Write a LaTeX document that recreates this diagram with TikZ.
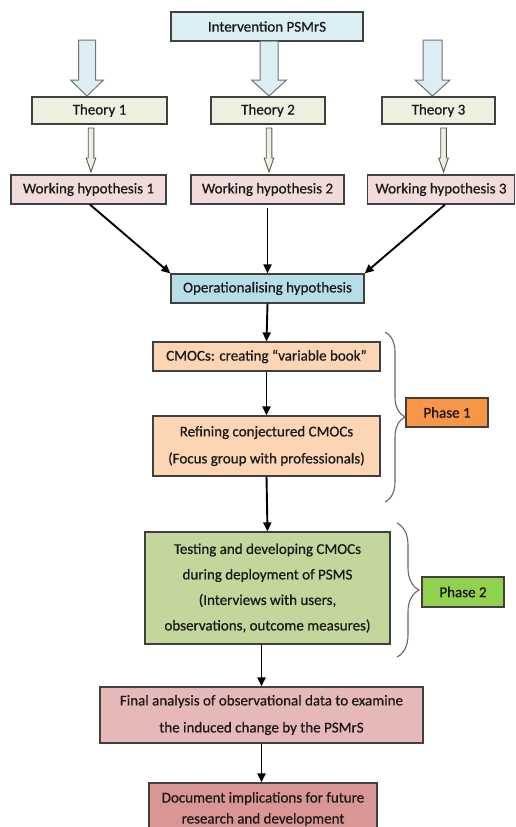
\documentclass[tikz,border=0pt]{standalone}
\usepackage{fontspec}
\setmainfont{Carlito}[FakeBold=0.6]
\usetikzlibrary{arrows.meta,decorations.pathreplacing,calc}
\definecolor{intvc}{HTML}{DBEEF4}
\definecolor{theoc}{HTML}{EBF1DE}
\definecolor{whc}{HTML}{F2DCDB}
\definecolor{opc}{HTML}{B7DDE8}
\definecolor{cmc}{HTML}{FCD5B5}
\definecolor{ph1c}{HTML}{F79646}
\definecolor{testc}{HTML}{C3D69B}
\definecolor{ph2c}{HTML}{92D050}
\definecolor{finc}{HTML}{E6B9B8}
\definecolor{docc}{HTML}{D99694}
\definecolor{edgec}{HTML}{404040}
\newcommand\myBlk[7]{%
  \draw[#7] (#1-#5,#2) -- (#1+#5,#2) -- (#1+#5,#3) -- (#1+#6,#3) -- (#1,#4) -- (#1-#6,#3) -- (#1-#5,#3) -- cycle;}
\begin{document}
\begin{tikzpicture}[x=1pt,y=-1pt,
  box/.style={draw=edgec, line width=1.2pt, inner sep=0pt, align=center, text=black!90,
    font=\fontsize{15}{27}\selectfont},
  conn/.style={draw=black, line width=1.9pt, -{Triangle[length=9pt,width=8pt]}},
  bigarr/.style={draw=black!55, line width=1pt, fill=intvc},
  smallarr/.style={draw=black!65, line width=0.9pt, fill=theoc},
  bracestyle/.style={draw=black!60, line width=1.1pt, decorate}]
\clip (0,0) rectangle (515,827);
\fill[white] (0,0) rectangle (515,827);

% nodes
\node[box, fill=intvc, minimum width=192pt, minimum height=29pt] (intv) at (267,26.5) {Intervention PSMrS};
\node[box, fill=theoc, minimum width=135pt, minimum height=27pt] (th1) at (99.5,110.5) {Theory 1};
\node[box, fill=theoc, minimum width=114pt, minimum height=27pt] (th2) at (268,110.5) {Theory 2};
\node[box, fill=theoc, minimum width=113pt, minimum height=27pt] (th3) at (438.5,110.5) {Theory 3};
\node[box, fill=whc, minimum width=155pt, minimum height=29pt] (wh1) at (88.5,189.5) {Working hypothesis 1};
\node[box, fill=whc, minimum width=153pt, minimum height=29pt] (wh2) at (267.5,189.5) {Working hypothesis 2};
\node[box, fill=whc, minimum width=147pt, minimum height=29pt] (wh3) at (441,189.5) {Working hypothesis 3};
\node[box, fill=opc, minimum width=193pt, minimum height=29pt] (op) at (267.5,288.5) {Operationalising hypothesis};
\node[box, fill=cmc, minimum width=227pt, minimum height=29pt] (cm) at (266.5,356.5) {CMOCs: creating “variable book”};
\node[box, fill=cmc, minimum width=227pt, minimum height=60pt] (ref) at (266.5,446) {Refining conjectured CMOCs\\(Focus group with professionals)};
\node[box, fill=ph1c, minimum width=82pt, minimum height=29pt] (ph1) at (447,412.5) {Phase 1};
\node[box, fill=testc, minimum width=245pt, minimum height=112pt, font=\fontsize{15}{25.5}\selectfont] (test) at (267.5,588) {Testing and developing CMOCs\\during deployment of PSMS\\(Interviews with users,\\observations, outcome measures)};
\node[box, fill=ph2c, minimum width=82pt, minimum height=30pt] (ph2) at (463,592) {Phase 2};
\node[box, fill=finc, minimum width=323pt, minimum height=56pt] (fin) at (261.5,715) {Final analysis of observational data to examine\\the induced change by the PSMrS};
\node[box, fill=docc, minimum width=228pt, minimum height=52pt, font=\fontsize{15}{21}\selectfont] (doc) at (263,809) {Document implications for future\\research and development};

% block arrows
\myBlk{87}{40}{80}{96}{8.5}{16.5}{bigarr}
\myBlk{269}{41}{80}{96}{9}{17.5}{bigarr}
\myBlk{432.5}{40}{80}{96}{9.5}{17.5}{bigarr}
\myBlk{91}{128}{158}{172}{2.8}{4.8}{smallarr}
\myBlk{269}{128}{158}{172}{2.8}{4.8}{smallarr}
\myBlk{443.5}{128}{158}{172}{2.8}{4.8}{smallarr}

% connectors
\draw[conn] ([xshift=1.5pt]wh1.south) -- (op.north west);
\draw[conn] ([yshift=-3pt]wh2.south) -- (op.north);
\draw[conn] ([xshift=4pt]wh3.south) -- (op.north east);
\draw[conn] (op.south) -- (cm.north);
\draw[conn] (cm.south) -- (ref.north);
\draw[conn] (ref.south) -- (test.north);
\draw[conn] (test.south -| fin.north) -- (fin.north);
\draw[conn] (fin.south) -- (fin.south |- doc.north);

% braces
\coordinate (b1t) at (385,332);
\coordinate (b1b) at (385,502);
\coordinate (b2t) at (397,523);
\coordinate (b2b) at (397,657);
\draw[bracestyle, decoration={brace, amplitude=20pt}] (b1t) -- (b1b);
\draw[bracestyle, decoration={brace, amplitude=22pt}] (b2t) -- (b2b);
\end{tikzpicture}
\end{document}
